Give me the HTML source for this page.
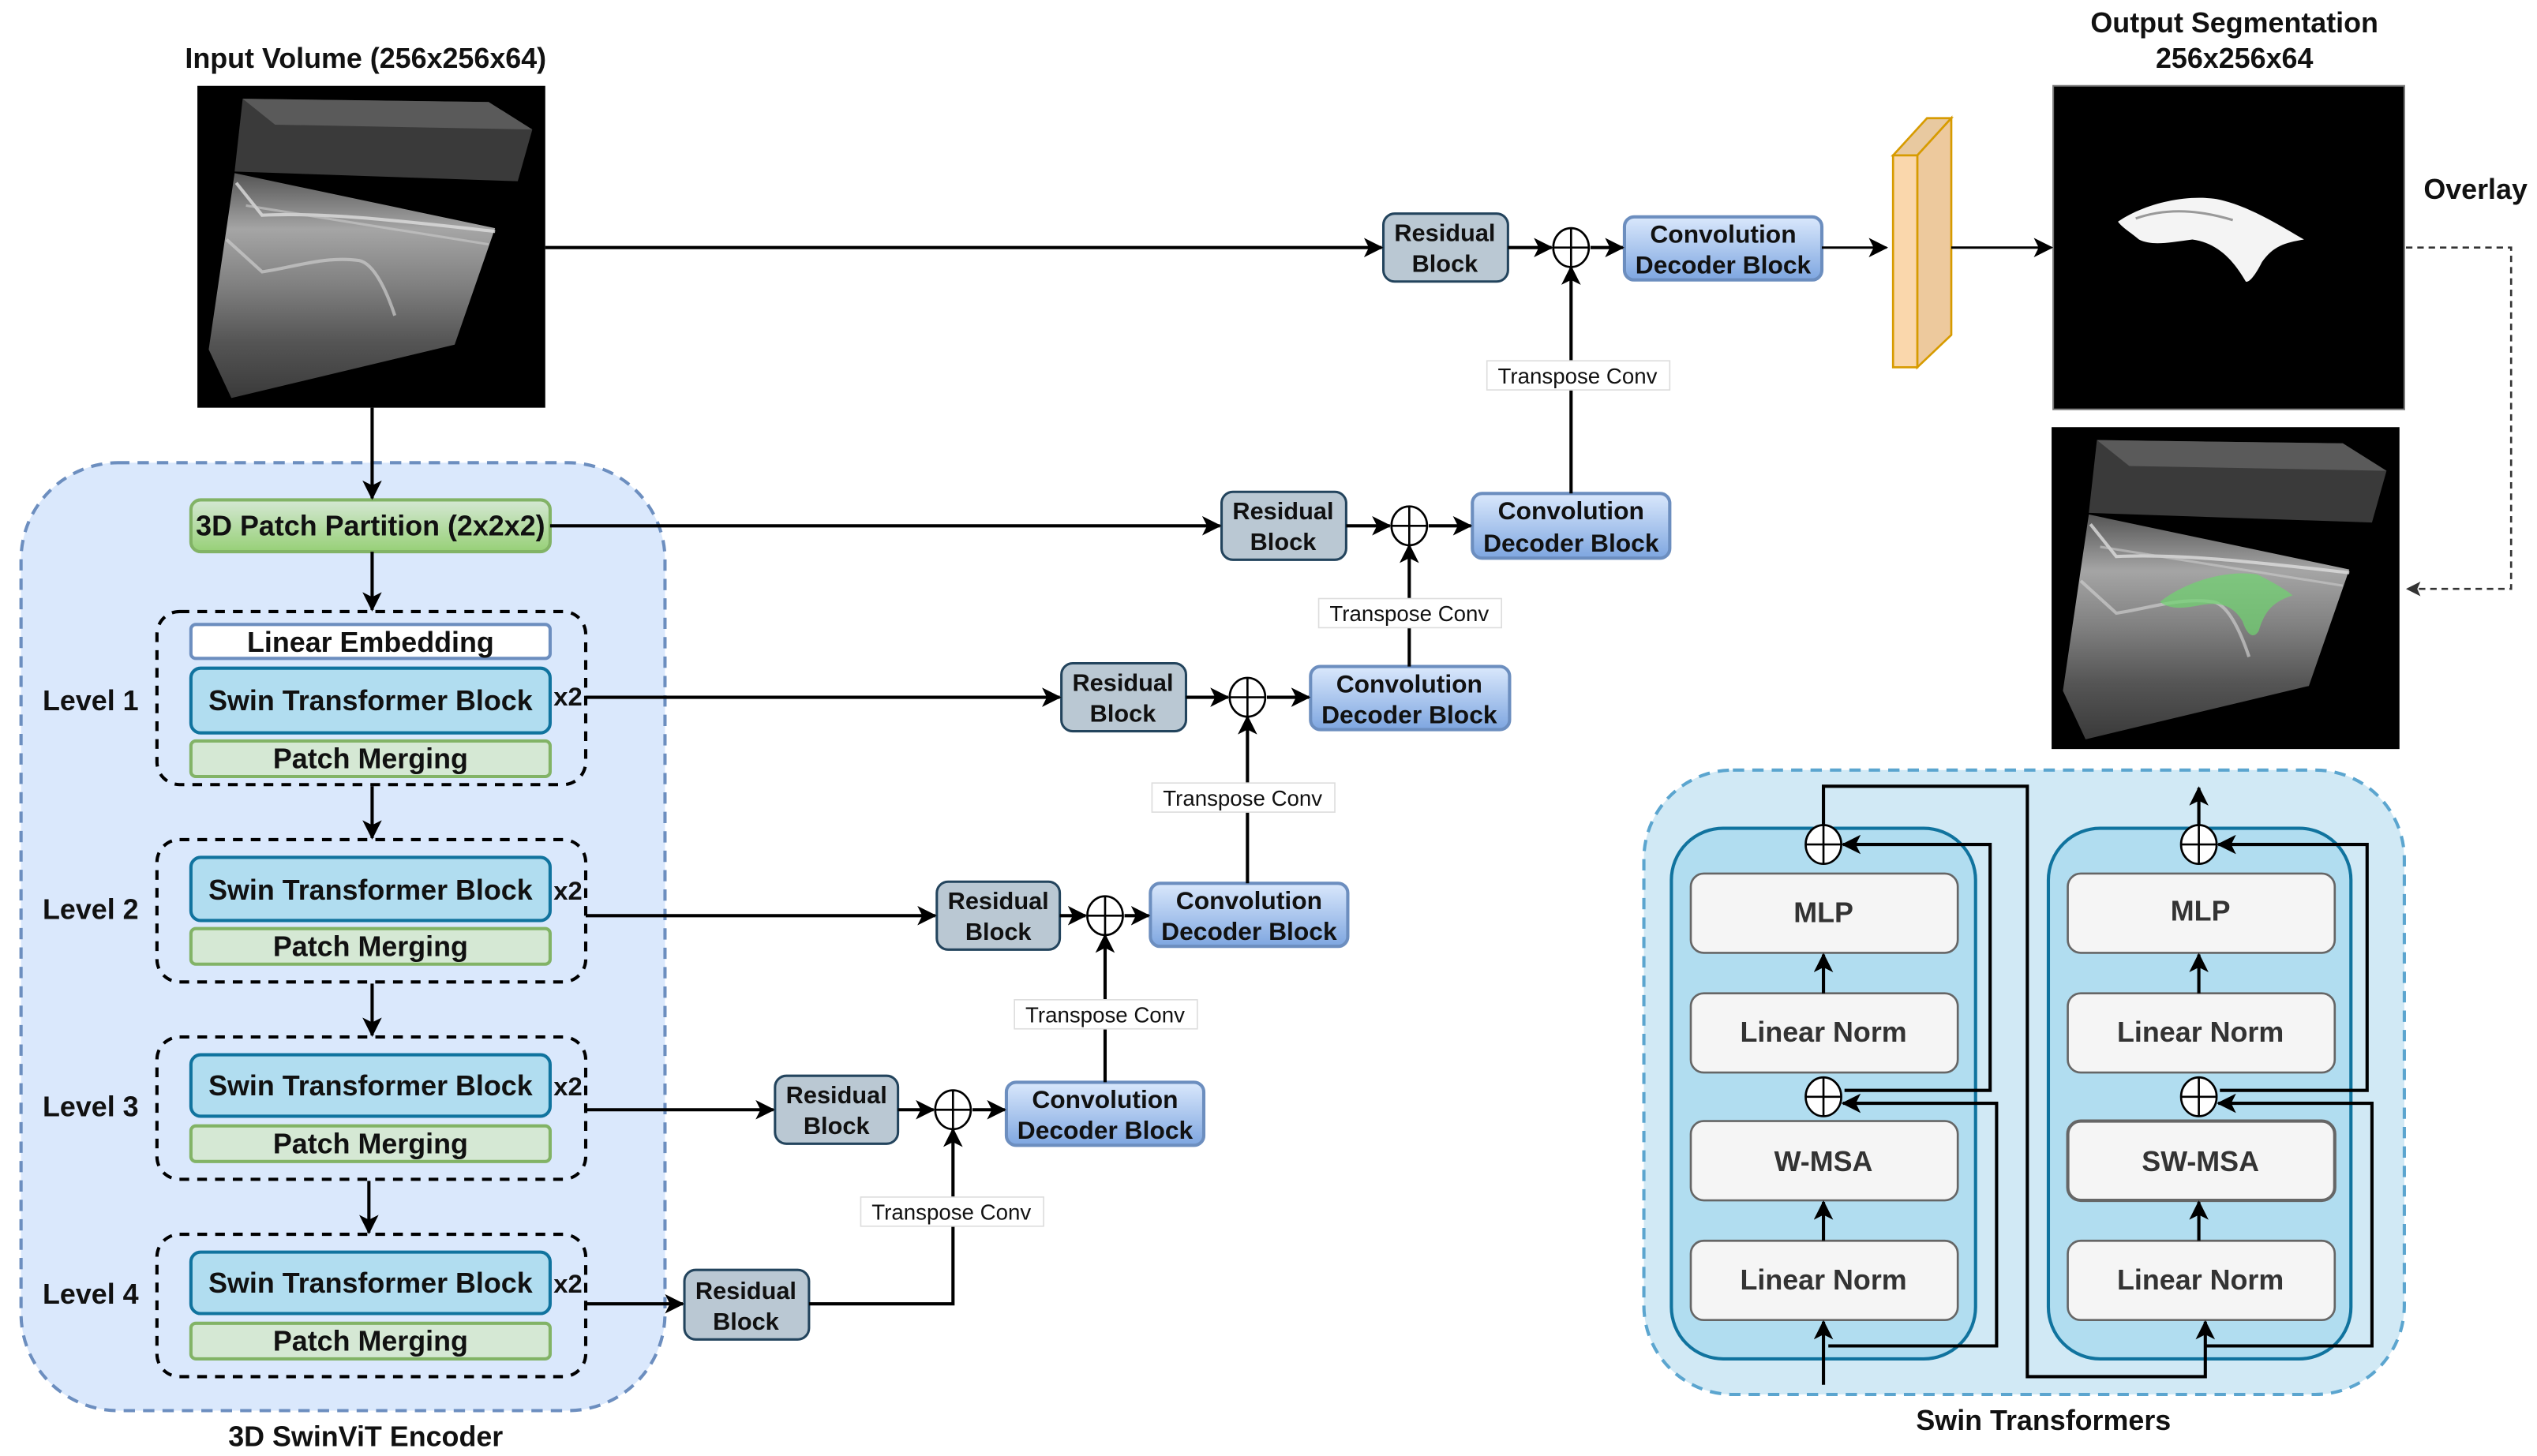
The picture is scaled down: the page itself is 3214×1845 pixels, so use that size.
<!DOCTYPE html>
<html><head><meta charset="utf-8"><style>
html,body{margin:0;padding:0;background:#fff}
svg{display:block}
text{font-family:"Liberation Sans",Arial,sans-serif}
.b{font-weight:bold;font-size:17.5px;text-anchor:middle;fill:#111}
.s{font-weight:bold;font-size:15px;text-anchor:middle;fill:#111}
.t{font-size:13.5px;text-anchor:middle;fill:#111}
.ln{stroke:#000;stroke-width:2;fill:none}
</style></head><body>
<svg width="3214" height="1845" viewBox="0 0 1568 900" xmlns="http://www.w3.org/2000/svg">
<defs>
<marker id="a" markerWidth="12" markerHeight="12" refX="11" refY="6" orient="auto" markerUnits="userSpaceOnUse"><path d="M0,0 L12,6 L0,12 L3,6 Z" fill="#000"/></marker>
<marker id="ad" markerWidth="9" markerHeight="9" refX="8" refY="4.5" orient="auto" markerUnits="userSpaceOnUse"><path d="M0,0 L9,4.5 L0,9 L2,4.5 Z" fill="#333"/></marker>
<linearGradient id="dec" x1="0" y1="0" x2="0" y2="1"><stop offset="0" stop-color="#dae8fc"/><stop offset="1" stop-color="#7ea6e0"/></linearGradient>
<linearGradient id="grn" x1="0" y1="0" x2="0" y2="1"><stop offset="0" stop-color="#d5e8d4"/><stop offset="1" stop-color="#97d077"/></linearGradient>
<linearGradient id="slab" x1="0" y1="0" x2="0" y2="1"><stop offset="0" stop-color="#555"/><stop offset="0.25" stop-color="#a5a5a5"/><stop offset="0.5" stop-color="#808080"/><stop offset="0.75" stop-color="#555"/><stop offset="1" stop-color="#3a3a3a"/></linearGradient>
<g id="vol">
<rect x="0" y="0" width="215" height="199" fill="#000"/>
<polygon points="28,8 180,10 207,27 198,59 23,53" fill="#3a3a3a"/>
<polygon points="28,8 180,10 207,27 48,24" fill="#5a5a5a"/>
<polygon points="23,54 184,88 159,160 21,193 7,163" fill="url(#slab)"/>
<path d="M24,60 L40,80 C80,78 130,84 184,90" stroke="#ddd" stroke-width="2" fill="none" opacity="0.8"/>
<path d="M30,74 C80,82 130,90 180,98" stroke="#ccc" stroke-width="1.5" fill="none" opacity="0.6"/>
<path d="M18,95 L40,115 C60,112 80,105 100,108 C110,110 118,130 122,142" stroke="#ccc" stroke-width="2" fill="none" opacity="0.7"/>
</g>
</defs>

<!-- Input -->
<text class="b" x="226" y="42">Input Volume (256x256x64)</text>
<use href="#vol" x="122" y="53"/>

<!-- Output -->
<text class="b" x="1381" y="20">Output Segmentation</text>
<text class="b" x="1381" y="42">256x256x64</text>
<rect x="1269" y="53" width="217" height="200" fill="#000" stroke="#777" stroke-width="1"/>
<path d="M1309,137 C1325,126 1350,120 1370,123 C1390,127 1410,140 1424,148 C1412,150 1405,152 1398,162 C1394,170 1390,175 1388,174 C1380,160 1370,150 1355,148 C1340,150 1330,152 1322,148 C1316,143 1312,141 1309,137 Z" fill="#f4f4f4"/>
<path d="M1320,135 C1340,128 1360,130 1380,136" stroke="#999" stroke-width="1.5" fill="none"/>
<use href="#vol" x="1268" y="264"/>
<path d="M1335,372 C1350,360 1375,352 1395,355 C1405,360 1412,364 1417,368 C1405,372 1400,377 1396,390 C1393,395 1389,393 1386,384 C1380,374 1372,372 1360,374 C1350,376 1341,377 1335,372 Z" fill="#6fd46f" opacity="0.7"/>
<text class="b" x="1530" y="123">Overlay</text>
<path d="M1487,153 H1552 V364 H1488" stroke="#333" stroke-width="1.3" stroke-dasharray="4,3" fill="none" marker-end="url(#ad)"/>

<!-- Orange slab -->
<polygon points="1170,96 1185,96 1206,73 1191,73" fill="#e8c9a0" stroke="#d79b00" stroke-width="1.3"/>
<polygon points="1185,96 1206,73 1206,207 1185,227" fill="#edc99d" stroke="#d79b00" stroke-width="1.3"/>
<rect x="1170" y="96" width="15" height="131" fill="#fad7ac" stroke="#d79b00" stroke-width="1.3"/>

<!-- Encoder container -->
<rect x="13" y="286" width="398" height="586" rx="60" fill="#dae8fc" stroke="#6c8ebf" stroke-width="2" stroke-dasharray="7,5"/>
<text class="b" x="226" y="894">3D SwinViT Encoder</text>

<rect x="118" y="309" width="222" height="32" rx="6" fill="url(#grn)" stroke="#82b366" stroke-width="2"/>
<text class="b" x="229" y="331">3D Patch Partition (2x2x2)</text>

<!-- Levels -->
<g fill="none" stroke="#000" stroke-width="2" stroke-dasharray="6,5">
<rect x="97" y="378" width="265" height="107" rx="14"/>
<rect x="97" y="519" width="265" height="88" rx="14"/>
<rect x="97" y="641" width="265" height="88" rx="14"/>
<rect x="97" y="763" width="265" height="88" rx="14"/>
</g>
<rect x="118" y="386" width="222" height="21" rx="3" fill="#fff" stroke="#6c8ebf" stroke-width="2"/>
<text class="b" x="229" y="403">Linear Embedding</text>
<g fill="#b1ddf0" stroke="#10739e" stroke-width="2">
<rect x="118" y="413" width="222" height="40" rx="6"/>
<rect x="118" y="530" width="222" height="39" rx="6"/>
<rect x="118" y="652" width="222" height="38" rx="6"/>
<rect x="118" y="774" width="222" height="38" rx="6"/>
</g>
<g fill="#d5e8d4" stroke="#82b366" stroke-width="2">
<rect x="118" y="458" width="222" height="22" rx="3"/>
<rect x="118" y="574" width="222" height="22" rx="3"/>
<rect x="118" y="696" width="222" height="22" rx="3"/>
<rect x="118" y="818" width="222" height="22" rx="3"/>
</g>
<text class="b" x="229" y="439">Swin Transformer Block</text>
<text class="b" x="229" y="556">Swin Transformer Block</text>
<text class="b" x="229" y="677">Swin Transformer Block</text>
<text class="b" x="229" y="799">Swin Transformer Block</text>
<text class="b" x="229" y="475">Patch Merging</text>
<text class="b" x="229" y="591">Patch Merging</text>
<text class="b" x="229" y="713">Patch Merging</text>
<text class="b" x="229" y="835">Patch Merging</text>
<g class="b" style="font-size:16px">
<text x="351" y="436">x2</text><text x="351" y="556">x2</text><text x="351" y="677">x2</text><text x="351" y="799">x2</text>
</g>
<text class="b" x="56" y="439">Level 1</text>
<text class="b" x="56" y="568">Level 2</text>
<text class="b" x="56" y="690">Level 3</text>
<text class="b" x="56" y="806">Level 4</text>

<!-- vertical encoder arrows -->
<g class="ln" marker-end="url(#a)">
<line x1="230" y1="252" x2="230" y2="308"/>
<line x1="230" y1="341" x2="230" y2="377"/>
<line x1="230" y1="486" x2="230" y2="518"/>
<line x1="230" y1="608" x2="230" y2="640"/>
<line x1="228" y1="730" x2="228" y2="762"/>
</g>

<!-- Residual blocks -->
<g fill="#bac8d3" stroke="#23445d" stroke-width="1.5">
<rect x="855" y="132" width="77" height="42" rx="7"/>
<rect x="755" y="304" width="77" height="42" rx="7"/>
<rect x="656" y="410" width="77" height="42" rx="7"/>
<rect x="579" y="545" width="76" height="42" rx="7"/>
<rect x="479" y="665" width="76" height="42" rx="7"/>
<rect x="423" y="785" width="77" height="43" rx="7"/>
</g>
<g class="s">
<text x="893" y="149">Residual</text><text x="893" y="168">Block</text>
<text x="793" y="321">Residual</text><text x="793" y="340">Block</text>
<text x="694" y="427">Residual</text><text x="694" y="446">Block</text>
<text x="617" y="562">Residual</text><text x="617" y="581">Block</text>
<text x="517" y="682">Residual</text><text x="517" y="701">Block</text>
<text x="461" y="803">Residual</text><text x="461" y="822">Block</text>
</g>

<!-- Decoder blocks -->
<g fill="url(#dec)" stroke="#6c8ebf" stroke-width="2">
<rect x="1004" y="134" width="122" height="39" rx="6"/>
<rect x="910" y="305" width="122" height="40" rx="6"/>
<rect x="810" y="412" width="123" height="39" rx="6"/>
<rect x="711" y="546" width="122" height="39" rx="6"/>
<rect x="622" y="669" width="122" height="39" rx="6"/>
</g>
<g class="s" style="font-size:15.5px">
<text x="1065" y="150">Convolution</text><text x="1065" y="169">Decoder Block</text>
<text x="971" y="321">Convolution</text><text x="971" y="341">Decoder Block</text>
<text x="871" y="428">Convolution</text><text x="871" y="447">Decoder Block</text>
<text x="772" y="562">Convolution</text><text x="772" y="581">Decoder Block</text>
<text x="683" y="685">Convolution</text><text x="683" y="704">Decoder Block</text>
</g>

<!-- skip lines -->
<g class="ln" marker-end="url(#a)">
<line x1="337" y1="153" x2="854" y2="153"/>
<line x1="340" y1="325" x2="754" y2="325"/>
<line x1="362" y1="431" x2="655" y2="431"/>
<polyline points="362,566 578,566"/>
<polyline points="362,686 478,686"/>
<polyline points="362,806 422,806"/>
<line x1="932" y1="153" x2="959" y2="153"/>
<line x1="983" y1="153" x2="1003" y2="153"/>
<line x1="832" y1="325" x2="859" y2="325"/>
<line x1="883" y1="325" x2="909" y2="325"/>
<line x1="733" y1="431" x2="759" y2="431"/>
<line x1="783" y1="431" x2="809" y2="431"/>
<line x1="655" y1="566" x2="671" y2="566"/>
<line x1="695" y1="566" x2="710" y2="566"/>
<line x1="555" y1="686" x2="577" y2="686"/>
<line x1="601" y1="686" x2="621" y2="686"/>
<line x1="971" y1="305" x2="971" y2="165"/>
<line x1="871" y1="412" x2="871" y2="337"/>
<line x1="771" y1="546" x2="771" y2="443"/>
<line x1="683" y1="669" x2="683" y2="578"/>
<polyline points="500,806 589,806 589,698"/>
</g>
<g stroke="#000" stroke-width="1.5" fill="none" marker-end="url(#a)">
<line x1="1126" y1="153" x2="1166" y2="153"/>
<line x1="1206" y1="153" x2="1268" y2="153"/>
</g>
<!-- oplus circles -->
<g fill="#fff" stroke="#000" stroke-width="1.3">
<ellipse cx="971" cy="153" rx="11" ry="12"/><ellipse cx="871" cy="325" rx="11" ry="12"/><ellipse cx="771" cy="431" rx="11" ry="12"/><ellipse cx="683" cy="566" rx="11" ry="12"/><ellipse cx="589" cy="686" rx="11" ry="12"/>
</g>
<g stroke="#000" stroke-width="1.3">
<path d="M960,153h22M971,141v24M860,325h22M871,313v24M760,431h22M771,419v24M672,566h22M683,554v24M578,686h22M589,674v24"/>
</g>
<!-- transpose labels -->
<g fill="#fff" stroke="#ddd" stroke-width="0.8">
<rect x="919" y="223" width="113" height="18"/><rect x="815" y="370" width="113" height="18"/><rect x="712" y="484" width="113" height="18"/><rect x="627" y="618" width="113" height="18"/><rect x="532" y="740" width="113" height="18"/>
</g>
<g class="t">
<text x="975" y="237">Transpose Conv</text><text x="871" y="384">Transpose Conv</text><text x="768" y="498">Transpose Conv</text><text x="683" y="632">Transpose Conv</text><text x="588" y="754">Transpose Conv</text>
</g>

<!-- Swin Transformers -->
<rect x="1016" y="476" width="470" height="386" rx="55" fill="#d1e9f5" stroke="#5ba5cf" stroke-width="2" stroke-dasharray="7,5"/>
<text class="b" x="1263" y="884">Swin Transformers</text>
<g fill="#b1ddf0" stroke="#10739e" stroke-width="2">
<rect x="1033" y="512" width="188" height="328" rx="32"/>
<rect x="1266" y="512" width="187" height="328" rx="32"/>
</g>
<g fill="#f5f5f5" stroke="#666" stroke-width="1.3">
<rect x="1045" y="540" width="165" height="49" rx="8"/><rect x="1045" y="614" width="165" height="49" rx="8"/><rect x="1045" y="693" width="165" height="49" rx="8"/><rect x="1045" y="767" width="165" height="49" rx="8"/>
<rect x="1278" y="540" width="165" height="49" rx="8"/><rect x="1278" y="614" width="165" height="49" rx="8"/><rect x="1278" y="693" width="165" height="49" rx="8" stroke-width="2"/><rect x="1278" y="767" width="165" height="49" rx="8"/>
</g>
<g class="b" style="fill:#333">
<text x="1127" y="570">MLP</text><text x="1127" y="644">Linear Norm</text><text x="1127" y="724">W-MSA</text><text x="1127" y="797">Linear Norm</text>
<text x="1360" y="569">MLP</text><text x="1360" y="644">Linear Norm</text><text x="1360" y="724">SW-MSA</text><text x="1360" y="797">Linear Norm</text>
</g>
<g class="ln" marker-end="url(#a)">
<line x1="1127" y1="614" x2="1127" y2="590"/>
<line x1="1127" y1="767" x2="1127" y2="743"/>
<line x1="1127" y1="856" x2="1127" y2="817"/>
<polyline points="1140,674 1230,674 1230,522 1139,522"/>
<polyline points="1130,832 1234,832 1234,682 1139,682"/>
<line x1="1359" y1="614" x2="1359" y2="590"/>
<line x1="1359" y1="767" x2="1359" y2="743"/>
<polyline points="1127,511 1127,486 1253,486 1253,851 1363,851 1363,817"/>
<polyline points="1372,674 1463,674 1463,522 1371,522"/>
<polyline points="1363,832 1466,832 1466,682 1371,682"/>
<line x1="1359" y1="511" x2="1359" y2="487"/>
</g>
<g fill="#fff" stroke="#000" stroke-width="1.3">
<ellipse cx="1127" cy="522" rx="11" ry="12"/><ellipse cx="1127" cy="678" rx="11" ry="12"/><ellipse cx="1359" cy="522" rx="11" ry="12"/><ellipse cx="1359" cy="678" rx="11" ry="12"/>
</g>
<path d="M1116,522h22M1127,510v24M1116,678h22M1127,666v24M1348,522h22M1359,510v24M1348,678h22M1359,666v24" stroke="#000" stroke-width="1.3"/>
</svg>
</body></html>
